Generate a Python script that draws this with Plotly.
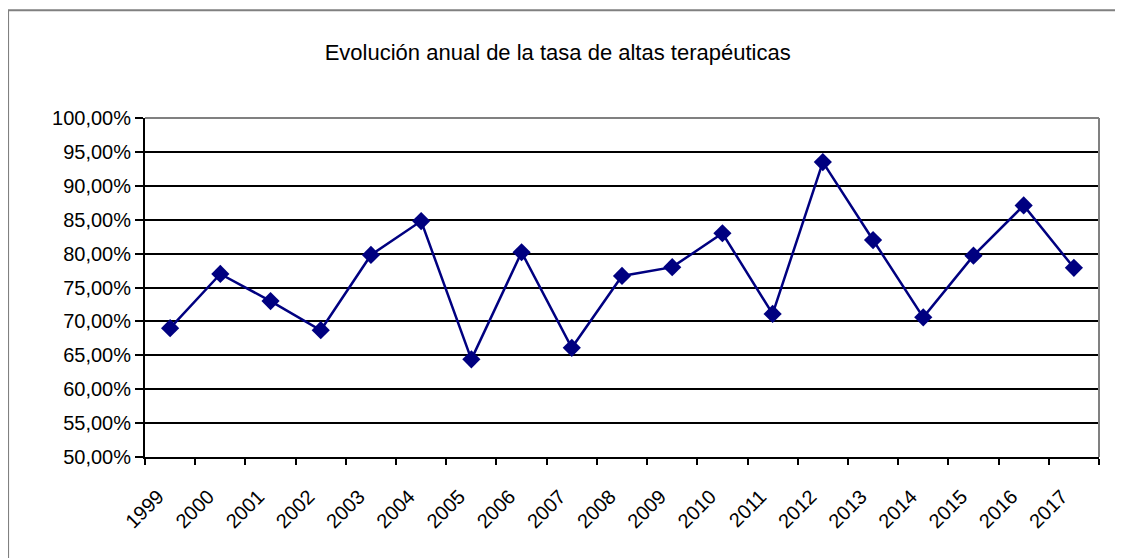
import plotly.graph_objects as go

# Datos: tasa anual de altas terapéuticas
years = ["1999", "2000", "2001", "2002", "2003", "2004", "2005", "2006", "2007", "2008",
         "2009", "2010", "2011", "2012", "2013", "2014", "2015", "2016", "2017"]
rates = [0.690, 0.770, 0.730, 0.687, 0.798, 0.848, 0.644, 0.802, 0.661, 0.767,
         0.780, 0.830, 0.711, 0.935, 0.820, 0.706, 0.797, 0.871, 0.779]
y_ticks = [0.50, 0.55, 0.60, 0.65, 0.70, 0.75, 0.80, 0.85, 0.90, 0.95, 1.00]

FONT = "Liberation Sans, Arial, sans-serif"

# la página añade 8 px de margen, así que la figura es algo más pequeña
W, H = 1115, 550
L, R, T, B = 137, 23.5, 110, 100.5
PW, PH = W - L - R, H - T - B

fig = go.Figure()
fig.add_trace(
    go.Scatter(
        x=years,
        y=rates,
        mode="lines+markers",
        line=dict(color="#000080", width=2.5),
        marker=dict(symbol="diamond", size=14, color="#000080"),
        showlegend=False,
    )
)

fig.update_layout(
    width=W,
    height=H,
    margin=dict(l=L, r=R, t=T, b=B),
    paper_bgcolor="white",
    plot_bgcolor="white",
    separators=",.",
    font=dict(family=FONT, color="black", size=20),
    title=dict(
        text="Evolución anual de la tasa de altas terapéuticas",
        x=0.493,
        xref="container",
        xanchor="center",
        y=1 - 44 / H,
        yref="container",
        yanchor="middle",
        font=dict(family=FONT, size=22, color="black"),
    ),
)

fig.update_xaxes(
    type="category",
    range=[-0.5, len(years) - 0.5],
    tickson="boundaries",
    ticks="outside",
    ticklen=6,
    tickwidth=2,
    tickcolor="black",
    tickangle=-45,
    ticklabelstandoff=18,
    ticklabelshift=-12,
    showline=True,
    linecolor="black",
    linewidth=2,
    showgrid=False,
    tickfont=dict(size=20),
)

fig.update_yaxes(
    range=[0.5, 1.0],
    tickvals=y_ticks,
    tickformat=".2%",
    ticks="outside",
    ticklen=8,
    tickwidth=2,
    tickcolor="black",
    showline=True,
    linecolor="black",
    linewidth=2,
    showgrid=True,
    gridcolor="black",
    gridwidth=2,
    zeroline=False,
    tickfont=dict(size=20),
)

# Borde gris del área de trazado (arriba y derecha) y del gráfico
fig.add_shape(type="line", xref="paper", yref="paper", x0=0, x1=1, y0=1, y1=1,
              line=dict(color="#808080", width=2))
fig.add_shape(type="line", xref="paper", yref="paper", x0=1, x1=1, y0=0, y1=1,
              line=dict(color="#808080", width=2))
fig.add_shape(type="rect", xref="paper", yref="paper",
              x0=(0 - L) / PW, x1=(W + 30 - L) / PW,
              y0=(T + PH - H - 30) / PH, y1=(T + PH - 2) / PH,
              line=dict(color="#808080", width=2), layer="below")

fig.write_html("out.html")
